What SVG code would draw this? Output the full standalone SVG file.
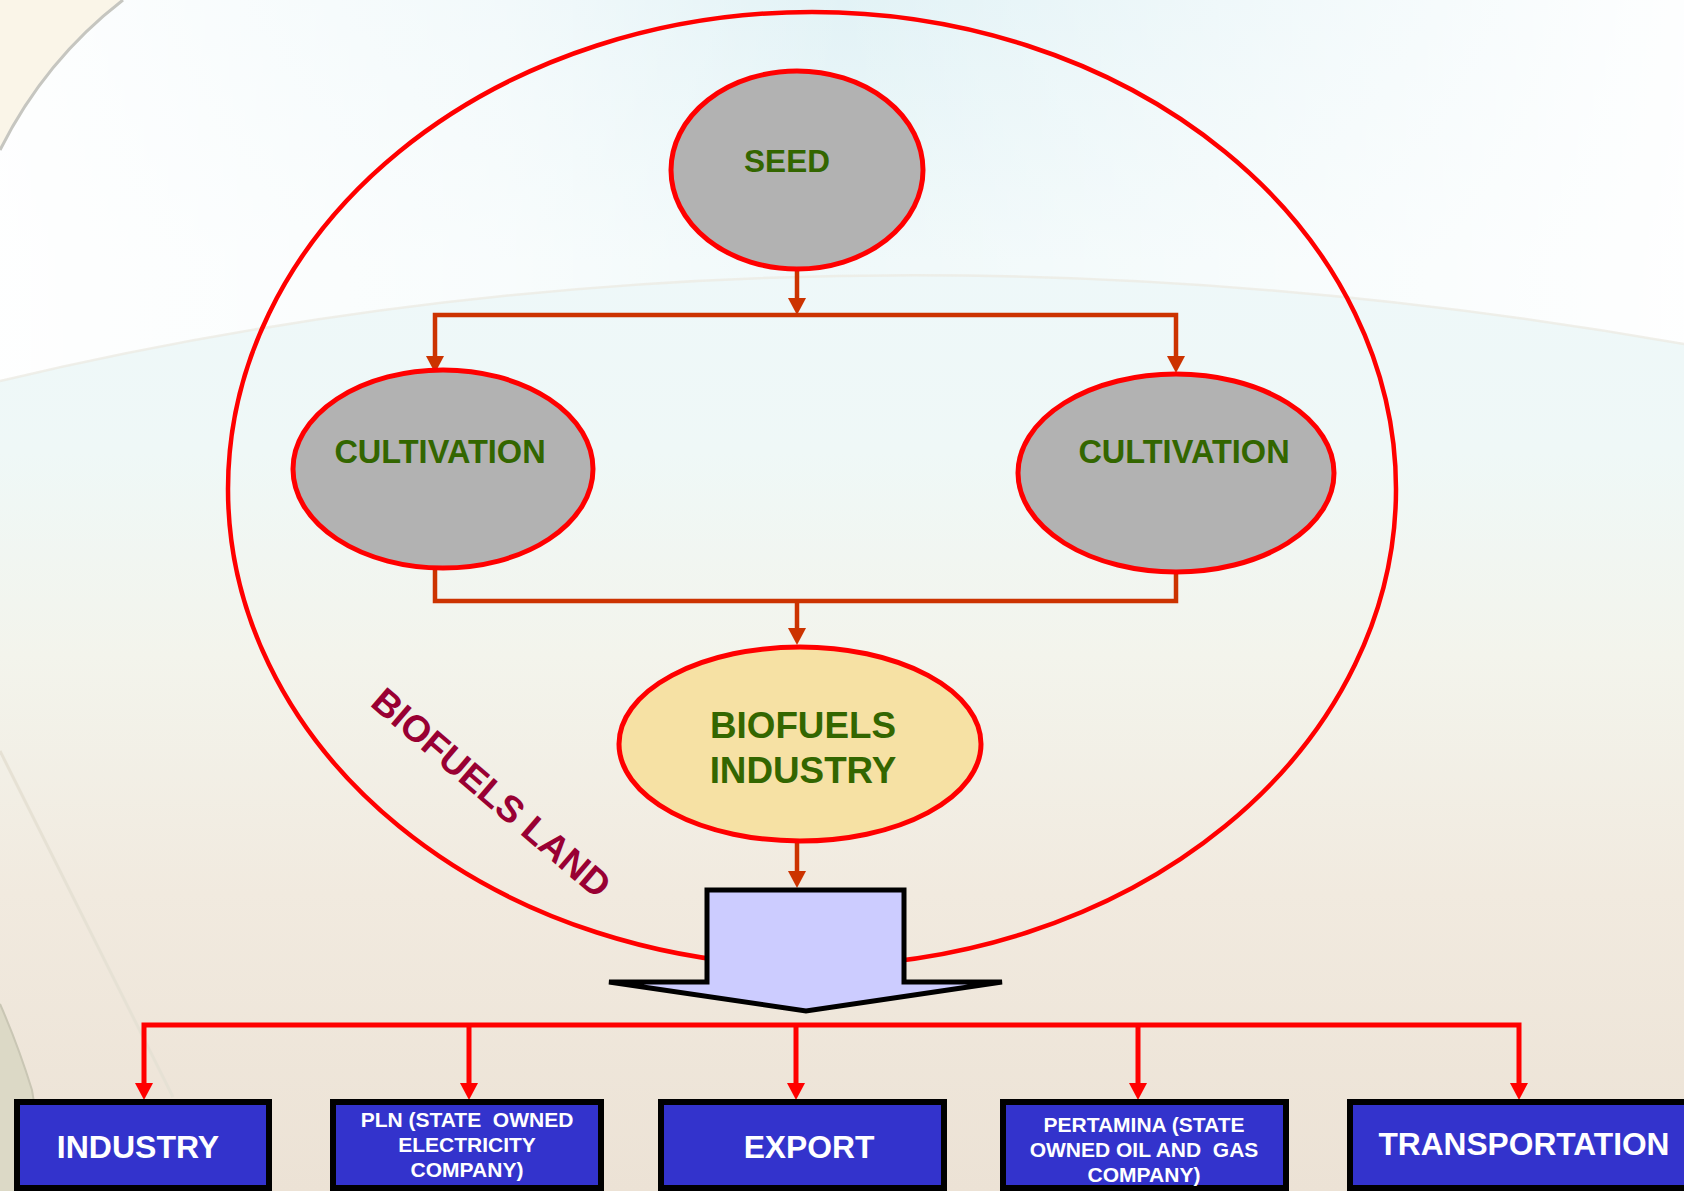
<svg xmlns="http://www.w3.org/2000/svg" width="1684" height="1191" viewBox="0 0 1684 1191">
  <defs>
    <linearGradient id="bgV" x1="0" y1="0" x2="0" y2="1">
      <stop offset="0" stop-color="#dff1f5"/>
      <stop offset="0.22" stop-color="#eef8f9"/>
      <stop offset="0.38" stop-color="#eff8f7"/>
      <stop offset="0.55" stop-color="#f3f4ec"/>
      <stop offset="0.75" stop-color="#f1eadf"/>
      <stop offset="1" stop-color="#ece2d5"/>
    </linearGradient>
    <linearGradient id="topGlow" x1="0" y1="0" x2="1" y2="0">
      <stop offset="0" stop-color="#ffffff" stop-opacity="0.95"/>
      <stop offset="0.3" stop-color="#ffffff" stop-opacity="0.6"/>
      <stop offset="0.5" stop-color="#ffffff" stop-opacity="0.1"/>
      <stop offset="0.78" stop-color="#ffffff" stop-opacity="0.6"/>
      <stop offset="1" stop-color="#ffffff" stop-opacity="0.95"/>
    </linearGradient>
    <marker id="ao" markerUnits="userSpaceOnUse" markerWidth="18" markerHeight="18" refX="7" refY="9" orient="auto">
      <path d="M0,0 L17,9 L0,18 Z" fill="#cc3300"/>
    </marker>
    <marker id="ar" markerUnits="userSpaceOnUse" markerWidth="18" markerHeight="18" refX="7" refY="9" orient="auto">
      <path d="M0,0 L17,9 L0,18 Z" fill="#ff0000"/>
    </marker>
  </defs>
  <style>
    .oval { stroke: #ff0000; stroke-width: 5; }
    .grey { fill: #b2b2b2; }
    .lbl { font-family: "Liberation Sans", Arial, sans-serif; font-weight: bold; fill: #336600; text-anchor: middle; }
    .box { fill: #3333cc; stroke: #000000; stroke-width: 6; }
    .btxt { font-family: "Liberation Sans", Arial, sans-serif; font-weight: bold; fill: #ffffff; text-anchor: middle; white-space: pre; }
    .oc { fill: none; stroke: #cc3300; stroke-width: 4.5; }
    .rc { fill: none; stroke: #ff0000; stroke-width: 5; }
  </style>

  <!-- background -->
  <g id="background">
    <rect x="0" y="0" width="1684" height="1191" fill="url(#bgV)"/>
    <path d="M0,0 H1684 V344 Q805,190 0,381 Z" fill="url(#topGlow)"/>
    <path d="M0,381 Q805,190 1684,344" fill="none" stroke="#ecebe4" stroke-width="2.5" stroke-opacity="0.8"/>
    <path d="M0,0 H123 Q45,60 0,150 Z" fill="#faf5e8"/>
    <path d="M123,0 Q45,60 0,150" fill="none" stroke="#c6c6c0" stroke-width="3"/>
    <path d="M0,751 Q90,930 173,1097" fill="none" stroke="#e6e1d4" stroke-width="3"/>
    <path d="M0,1004 Q18,1045 32,1090 L48,1191 H0 Z" fill="#dcd9c6"/>
    <path d="M0,1004 Q18,1045 32,1090 L48,1191" fill="none" stroke="#c9c6b4" stroke-width="2"/>
  </g>

  <!-- outer land ellipse -->
  <g id="biofuels-land">
    <ellipse cx="812" cy="489" rx="584" ry="477" fill="none" stroke="#ff0000" stroke-width="4.5"/>
    <text x="0" y="0" transform="translate(369,705) rotate(40.5)" font-family="Liberation Sans, Arial, sans-serif" font-weight="bold" font-size="37" fill="#990033">BIOFUELS LAND</text>
  </g>

  <!-- connectors -->
  <g id="connectors">
    <path class="oc" d="M797,270 V305" marker-end="url(#ao)"/>
    <path class="oc" d="M797,315 H435 V363" marker-end="url(#ao)"/>
    <path class="oc" d="M797,315 H1176 V363" marker-end="url(#ao)"/>
    <path class="oc" d="M435,569 V601 H1176 V573"/>
    <path class="oc" d="M797,601 V635" marker-end="url(#ao)"/>
    <path class="oc" d="M797,843 V878" marker-end="url(#ao)"/>
    <path class="rc" d="M806,1025 H144 V1090" marker-end="url(#ar)"/>
    <path class="rc" d="M806,1025 H1519 V1090" marker-end="url(#ar)"/>
    <path class="rc" d="M469,1025 V1090" marker-end="url(#ar)"/>
    <path class="rc" d="M796,1025 V1090" marker-end="url(#ar)"/>
    <path class="rc" d="M1138,1025 V1090" marker-end="url(#ar)"/>
  </g>

  <g id="seed">
    <ellipse class="oval grey" cx="797" cy="170" rx="126" ry="99"/>
    <text class="lbl" x="787" y="172" font-size="31.5">SEED</text>
  </g>

  <g id="cultivation-left">
    <ellipse class="oval grey" cx="443" cy="469" rx="150" ry="99"/>
    <text class="lbl" x="440" y="463" font-size="32.5">CULTIVATION</text>
  </g>

  <g id="cultivation-right">
    <ellipse class="oval grey" cx="1176" cy="473" rx="158" ry="99"/>
    <text class="lbl" x="1184" y="463" font-size="32.5">CULTIVATION</text>
  </g>

  <g id="biofuels-industry">
    <ellipse class="oval" cx="800" cy="744" rx="181" ry="97" fill="#f6e1a4"/>
    <text class="lbl" x="803" y="738" font-size="36.8">BIOFUELS</text>
    <text class="lbl" x="803" y="783" font-size="36.8">INDUSTRY</text>
  </g>

  <g id="distribution-arrow">
    <path d="M707,890 H904 V982 H1002 L806,1011 L609,982 H707 Z" fill="#ccccff" stroke="#000000" stroke-width="5"/>
  </g>

  <g id="industry">
    <rect class="box" x="17" y="1102" width="252" height="86"/>
    <text class="btxt" x="138" y="1158" font-size="32">INDUSTRY</text>
  </g>

  <g id="pln">
    <rect class="box" x="333" y="1102" width="268" height="86"/>
    <text class="btxt" x="467" y="1127" font-size="21">PLN (STATE  OWNED</text>
    <text class="btxt" x="467" y="1152" font-size="21">ELECTRICITY</text>
    <text class="btxt" x="467" y="1177" font-size="21">COMPANY)</text>
  </g>

  <g id="export">
    <rect class="box" x="661" y="1102" width="283" height="86"/>
    <text class="btxt" x="809" y="1158" font-size="31.8">EXPORT</text>
  </g>

  <g id="pertamina">
    <rect class="box" x="1003" y="1102" width="283" height="86"/>
    <text class="btxt" x="1144" y="1132" font-size="21">PERTAMINA (STATE</text>
    <text class="btxt" x="1144" y="1157" font-size="21">OWNED OIL AND  GAS</text>
    <text class="btxt" x="1144" y="1182" font-size="21">COMPANY)</text>
  </g>

  <g id="transportation">
    <rect class="box" x="1350" y="1102" width="400" height="86"/>
    <text class="btxt" x="1524" y="1155" font-size="31.7">TRANSPORTATION</text>
  </g>
</svg>
